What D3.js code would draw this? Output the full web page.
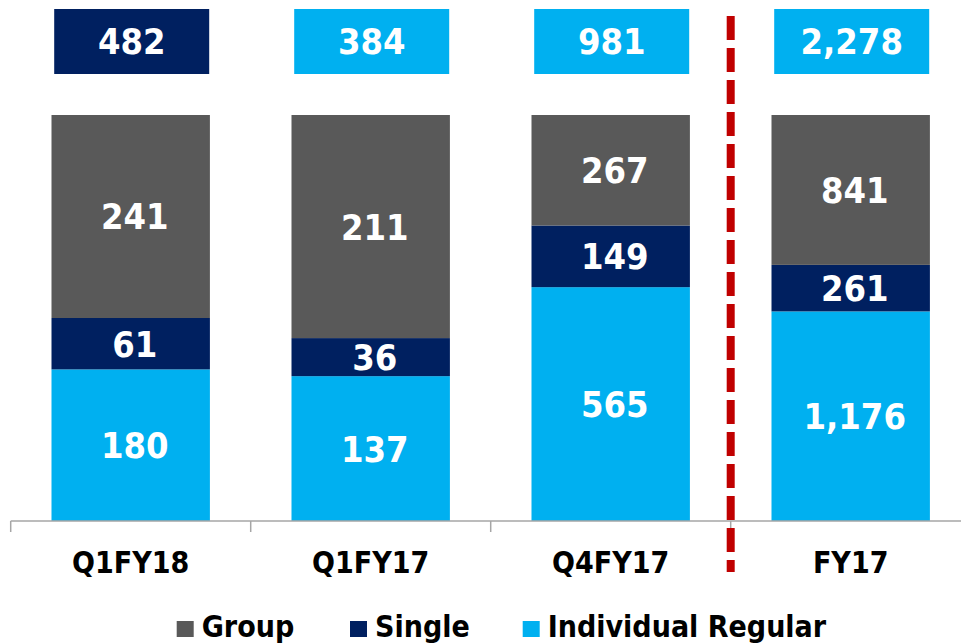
<!DOCTYPE html>
<html><head><meta charset="utf-8">
<script src="https://cdn.jsdelivr.net/npm/d3@7"></script>
<style>body{margin:0;background:#fff}svg{display:block}</style>
</head><body><svg id="c" width="961" height="644"></svg>
<script>
const categories = ["Q1FY18","Q1FY17","Q4FY17","FY17"];
const seriesNames = ["Individual Regular","Single","Group"];
const individualRegular = [180,137,565,1176];
const single = [61,36,149,261];
const group = [241,211,267,841];
const totals = [482,384,981,2278];
const legendOrder = ["Group","Single","Individual Regular"];

const colors = {"Group":"#595959","Single":"#002060","Individual Regular":"#00B0F0"};
const FONT = "'DejaVu Sans Condensed','DejaVu Sans',sans-serif";
const svg = d3.select("#c");
const fmt = d3.format(",");

const rows = categories.map((c,i)=>({cat:c,"Individual Regular":individualRegular[i],"Single":single[i],"Group":group[i],total:totals[i]}));
const stack = d3.stack().keys(seriesNames).offset(d3.stackOffsetExpand);
const layers = stack(rows);

const x = d3.scaleBand().domain(categories).range([10.7,970.7]).padding(0);
const barW = x.bandwidth()*0.66;
const y = d3.scaleLinear().domain([0,1]).range([521,115]);

// bars
const g = svg.append("g");
layers.forEach(layer=>{
  g.selectAll(null).data(layer).enter().append("rect")
    .attr("x",d=>x(d.data.cat)+x.bandwidth()/2-barW/2)
    .attr("y",d=>y(d[1]))
    .attr("width",barW)
    .attr("height",d=>y(d[0])-y(d[1]))
    .attr("fill",colors[layer.key]);
});
// labels
layers.forEach(layer=>{
  g.selectAll(null).data(layer).enter().append("text")
    .attr("x",d=>x(d.data.cat)+x.bandwidth()/2+4)
    .attr("y",d=>(y(d[0])+y(d[1]))/2)
    .attr("dy","0.36em")
    .attr("text-anchor","middle")
    .attr("fill","#fff")
    .attr("font-family",FONT).attr("font-weight","bold").attr("font-size",36)
    .text(d=>fmt(d.data[layer.key]));
});

// axis
const axis = d3.axisBottom(x).tickSize(0).tickPadding(0).tickFormat("");
const ax = svg.append("g").attr("transform","translate(0,521)");
ax.append("line").attr("x1",10.7).attr("x2",961).attr("y1",0).attr("y2",0).attr("stroke","#A6A6A6").attr("stroke-width",1.5);
const edges = categories.map(c=>x(c)).concat([x.range()[1]]);
ax.selectAll(".tk").data(edges).enter().append("line")
  .attr("x1",d=>d).attr("x2",d=>d).attr("y1",0).attr("y2",11)
  .attr("stroke","#A6A6A6").attr("stroke-width",1.5);
ax.selectAll(".lb").data(categories).enter().append("text")
  .attr("x",d=>x(d)+x.bandwidth()/2).attr("y",52)
  .attr("text-anchor","middle").attr("fill","#000")
  .attr("font-family",FONT).attr("font-weight","bold").attr("font-size",30)
  .text(d=>d);

// total boxes
const boxW=155, boxH=65;
const tg = svg.selectAll(".tot").data(rows).enter().append("g");
tg.append("rect")
  .attr("x",(d)=>x(d.cat)+x.bandwidth()/2-boxW/2+1)
  .attr("y",9).attr("width",boxW).attr("height",boxH)
  .attr("fill",(d,i)=>i===0?colors["Single"]:colors["Individual Regular"]);
tg.append("text")
  .attr("x",(d)=>x(d.cat)+x.bandwidth()/2+1)
  .attr("y",9+boxH/2).attr("dy","0.36em")
  .attr("text-anchor","middle").attr("fill","#fff")
  .attr("font-family",FONT).attr("font-weight","bold").attr("font-size",36)
  .text(d=>fmt(d.total));

// red dashed separator
const sepX = x("FY17");
svg.append("line").attr("x1",sepX).attr("x2",sepX).attr("y1",16).attr("y2",572)
  .attr("stroke","#C00000").attr("stroke-width",8).attr("stroke-dasharray","24 8");

// legend
const legX = [176.7,350,522.7];
const lg = svg.selectAll(".lg").data(legendOrder).enter().append("g")
  .attr("transform",(d,i)=>`translate(${legX[i]},621)`);
lg.append("rect").attr("width",17).attr("height",16).attr("fill",d=>colors[d]);
lg.append("text").attr("x",25).attr("y",16).attr("fill","#000")
  .attr("font-family",FONT).attr("font-weight","bold").attr("font-size",30)
  .text(d=>d);
</script></body></html>
